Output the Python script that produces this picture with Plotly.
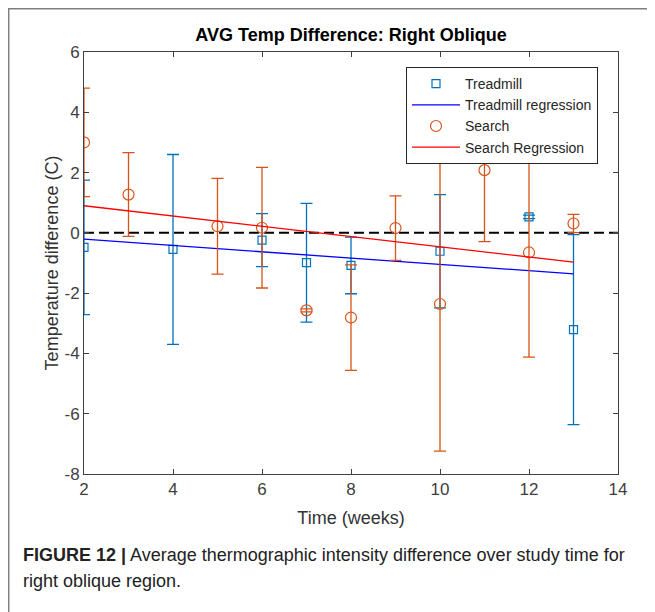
import plotly.graph_objects as go

# ---- data ----
tread_weeks = [2, 4, 6, 7, 8, 10, 12, 13]
tread_mean = [-0.48, -0.55, -0.24, -0.99, -1.08, -0.61, 0.53, -3.21]
tread_err = [2.23, 3.15, 0.88, 1.97, 0.94, 1.88, 0.06, 3.15]

search_weeks = [2, 3, 5, 6, 7, 8, 9, 10, 11, 12, 13]
search_mean = [3.0, 1.27, 0.22, 0.17, -2.57, -2.81, 0.16, -2.36, 2.08, -0.65, 0.31]
search_err = [1.8, 1.39, 1.59, 2.0, 0.05, 1.75, 1.07, 4.88, 2.37, 3.47, 0.3]

tread_reg_x = [2, 13]
tread_reg_y = [-0.21, -1.36]
search_reg_x = [2, 13]
search_reg_y = [0.9, -0.97]

zero_x = [2, 14]
zero_y = [0, 0]

x_ticks = [2, 4, 6, 8, 10, 12, 14]
x_tick_labels = ["2", "4", "6", "8", "10", "12", "14"]
y_ticks = [-8, -6, -4, -2, 0, 2, 4, 6]
y_tick_labels = ["-8", "-6", "-4", "-2", "0", "2", "4", "6"]

BLUE = "#0072BD"
ORANGE = "#D95319"
AX = "#404040"
FONT = "Liberation Sans, Arial, sans-serif"

fig = go.Figure()

fig.add_trace(go.Scatter(
    x=zero_x, y=zero_y, mode="lines",
    line=dict(color="black", width=2, dash="10px,5px"),
    showlegend=False, hoverinfo="skip"))

fig.add_trace(go.Scatter(
    x=tread_weeks, y=tread_mean, mode="markers", name="Treadmill",
    marker=dict(symbol="square-open", size=8, color=BLUE, line=dict(width=1.2, color=BLUE)),
    error_y=dict(type="data", array=tread_err, visible=True, color=BLUE, thickness=1.3, width=6)))

fig.add_trace(go.Scatter(
    x=tread_reg_x, y=tread_reg_y, mode="lines", name="Treadmill regression",
    line=dict(color="#0000FF", width=1.3)))

fig.add_trace(go.Scatter(
    x=search_weeks, y=search_mean, mode="markers", name="Search",
    marker=dict(symbol="circle-open", size=11, color=ORANGE, line=dict(width=1.2, color=ORANGE)),
    error_y=dict(type="data", array=search_err, visible=True, color=ORANGE, thickness=1.3, width=6)))

fig.add_trace(go.Scatter(
    x=search_reg_x, y=search_reg_y, mode="lines", name="Search Regression",
    line=dict(color="#FF0000", width=1.3)))

axis_common = dict(
    showgrid=False, zeroline=False, showline=True, linecolor=AX, linewidth=1,
    mirror="ticks", ticks="inside", ticklen=5, tickcolor=AX,
    tickfont=dict(family=FONT, size=17, color=AX))

fig.update_xaxes(range=[2, 14], tickvals=x_ticks, ticktext=x_tick_labels, **axis_common,
                 title=dict(text="Time (weeks)", font=dict(family=FONT, size=18, color="#333333"), standoff=12))
fig.update_yaxes(range=[-8, 6], tickvals=y_ticks, ticktext=y_tick_labels, **axis_common,
                 title=dict(text="Temperature difference (C)", font=dict(family=FONT, size=18, color="#333333"), standoff=1))

# browser body margin offset
O = 8
W, H = 655, 612
L, R, T, B = 84, 618, 52, 474
pw, ph = R - L, B - T


def px(xp):
    return (xp - L) / pw


def py(yp):
    return (B - yp) / ph


fig.update_layout(
    width=W - O, height=H - O,
    margin=dict(l=L - O, r=W - R, t=T - O, b=H - B, pad=0),
    paper_bgcolor="white", plot_bgcolor="white",
    font=dict(family=FONT),
    title=dict(text="<b>AVG Temp Difference: Right Oblique</b>", x=px(351), xref="paper", xanchor="center",
               y=1 - (35 - O) / (H - O), yanchor="middle", font=dict(family=FONT, size=18, color="black")),
    legend=dict(x=px(406), y=py(67), xanchor="left", yanchor="top",
                bgcolor="white", bordercolor="#262626", borderwidth=1,
                font=dict(family=FONT, size=14, color="#262626"),
                tracegroupgap=0, itemwidth=48),
    shapes=[dict(type="rect", xref="paper", yref="paper",
                 x0=px(8.7), x1=px(660), y0=py(625), y1=py(8.7),
                 line=dict(color="#7f7f7f", width=1.5), layer="below")],
    annotations=[
        dict(text="<b>FIGURE 12 |</b> Average thermographic intensity difference over study time for",
             xref="paper", yref="paper", x=px(21), y=py(555), xanchor="left", yanchor="middle",
             showarrow=False, font=dict(family=FONT, size=18, color="#222222")),
        dict(text="right oblique region.",
             xref="paper", yref="paper", x=px(21), y=py(581), xanchor="left", yanchor="middle",
             showarrow=False, font=dict(family=FONT, size=18, color="#222222")),
    ],
)

fig.write_html("out.html")
